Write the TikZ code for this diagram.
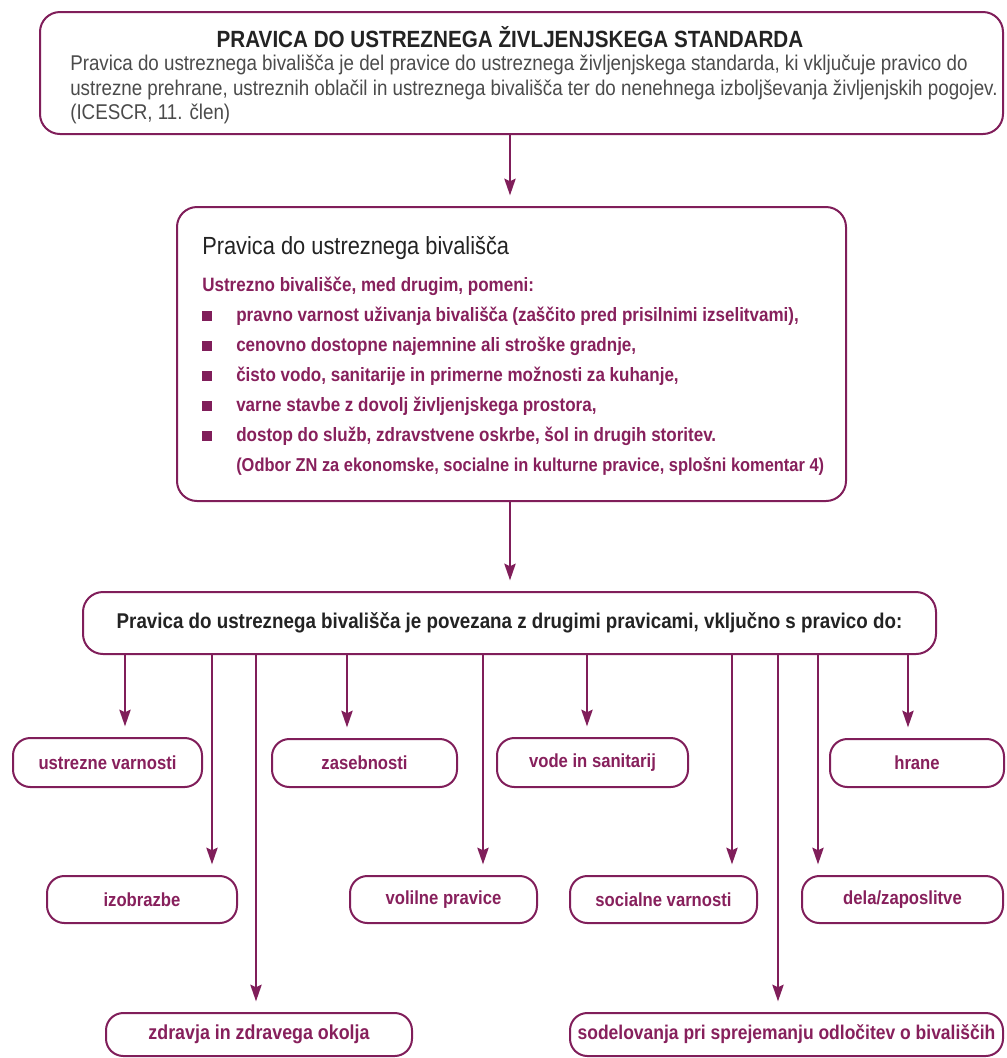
\documentclass[tikz,border=0pt]{standalone}
\usepackage{fontspec}
\setmainfont[FakeStretch=0.88]{Liberation Sans}
\usetikzlibrary{arrows.meta}
\definecolor{frm}{RGB}{128,30,90}
\definecolor{ptxt}{RGB}{135,32,92}
\definecolor{dtxt}{RGB}{35,35,35}
\definecolor{gtxt}{RGB}{75,75,75}
\newcommand{\sq}{\makebox[25.5pt][l]{\raisebox{0.8pt}{\textcolor{frm}{\rule{7.5pt}{7.5pt}}}}}
\begin{document}
\begin{tikzpicture}[x=0.75pt,y=-0.75pt,
  frame/.style={draw=frm, line width=1.5pt, rounded corners=15pt, fill=white, inner sep=0pt},
  small/.style={frame, rounded corners=13pt, font=\fontsize{14.2}{16}\selectfont\bfseries, text=ptxt},
  arr/.style={draw=frm, line width=1.5pt, -{Stealth[length=12.5pt,width=8.5pt,inset=2pt]}, shorten >=8pt}]
\useasboundingbox (0,0) rectangle (1007,1058);
% top box
\node[frame, minimum width=963*0.75pt, minimum height=122*0.75pt] (top) at (521.5,73) {};
\node[font=\fontsize{17.6}{19}\selectfont\bfseries, text=dtxt, inner sep=0pt] (toptitle) at (510,37) {PRAVICA DO USTREZNEGA ŽIVLJENJSKEGA STANDARDA};
\node[anchor=north west, align=left, inner sep=0pt, font=\fontsize{16}{18.4}\selectfont, text=gtxt] (topbody) at (70,55)
 {Pravica do ustreznega bivališča je del pravice do ustreznega življenjskega standarda, ki vključuje pravico do\\
  ustrezne prehrane, ustreznih oblačil in ustreznega bivališča ter do nenehnega izboljševanja življenjskih pogojev.\\
  (ICESCR, 11. člen)};
% middle box
\node[frame, minimum width=669*0.75pt, minimum height=294*0.75pt] (mid) at (511.5,354) {};
\node[anchor=west, inner sep=0pt, font=\fontsize{18.6}{20}\selectfont, text=dtxt] (midtitle) at (202,248) {Pravica do ustreznega bivališča};
\node[anchor=north west, align=left, inner sep=0pt, font=\fontsize{14.5}{22.5}\selectfont\bfseries, text=ptxt] (midlist) at (202,277)
 {Ustrezno bivališče, med drugim, pomeni:\\
  \sq pravno varnost uživanja bivališča (zaščito pred prisilnimi izselitvami),\\
  \sq cenovno dostopne najemnine ali stroške gradnje,\\
  \sq čisto vodo, sanitarije in primerne možnosti za kuhanje,\\
  \sq varne stavbe z dovolj življenjskega prostora,\\
  \sq dostop do služb, zdravstvene oskrbe, šol in drugih storitev.\\
  \hspace*{25.5pt}{\fontsize{14}{22.5}\selectfont(Odbor ZN za ekonomske, socialne in kulturne pravice, splošni komentar 4)}};
% link box
\node[frame, rounded corners=15pt, minimum width=853*0.75pt, minimum height=62*0.75pt,
  font=\fontsize{16}{18}\selectfont\bfseries, text=dtxt] (link) at (509.5,623)
  {Pravica do ustreznega bivališča je povezana z drugimi pravicami, vključno s pravico do:};
% small boxes
\node[small, minimum width=189*0.75pt, minimum height=49*0.75pt] (b1) at (107.5,762.5) {ustrezne varnosti};
\node[small, minimum width=185*0.75pt, minimum height=48*0.75pt] (b2) at (364.5,763) {zasebnosti};
\node[small, minimum width=191*0.75pt, minimum height=49*0.75pt] (b3) at (592.5,762.5) {vode in sanitarij};
\node[small, minimum width=174*0.75pt, minimum height=48*0.75pt] (b4) at (917,763) {hrane};
\node[small, minimum width=190*0.75pt, minimum height=47*0.75pt] (b5) at (142,899.5) {izobrazbe};
\node[small, minimum width=187*0.75pt, minimum height=47*0.75pt] (b6) at (443.5,899.5) {volilne pravice};
\node[small, minimum width=187*0.75pt, minimum height=47*0.75pt] (b7) at (663.5,899.5) {socialne varnosti};
\node[small, minimum width=201*0.75pt, minimum height=47*0.75pt] (b8) at (902.5,899.5) {dela/zaposlitve};
\node[small, font=\fontsize{15.2}{17}\selectfont\bfseries, minimum width=306*0.75pt, minimum height=43*0.75pt] (b9) at (259,1034.5) {zdravja in zdravega okolja};
\node[small, font=\fontsize{14.9}{17}\selectfont\bfseries, minimum width=433*0.75pt, minimum height=43*0.75pt] (b10) at (786.5,1034.5) {sodelovanja pri sprejemanju odločitev o bivališčih};
% connectors
\coordinate (cx) at (510,0);
\draw[arr] (top.south -| cx) -- (mid.north -| cx);
\draw[arr] (mid.south -| cx) -- (link.north -| cx);
\coordinate (x1) at (125,0);
\coordinate (x2) at (347,0);
\coordinate (x3) at (587,0);
\coordinate (x4) at (908,0);
\coordinate (x5) at (212,0);
\coordinate (x6) at (483,0);
\coordinate (x7) at (732,0);
\coordinate (x8) at (818,0);
\coordinate (x9) at (256,0);
\coordinate (x10) at (778,0);
\draw[arr] (link.south -| x1) -- (b1.north -| x1);
\draw[arr] (link.south -| x2) -- (b2.north -| x2);
\draw[arr] (link.south -| x3) -- (b3.north -| x3);
\draw[arr] (link.south -| x4) -- (b4.north -| x4);
\draw[arr] (link.south -| x5) -- (b5.north -| x5);
\draw[arr] (link.south -| x6) -- (b6.north -| x6);
\draw[arr] (link.south -| x7) -- (b7.north -| x7);
\draw[arr] (link.south -| x8) -- (b8.north -| x8);
\draw[arr] (link.south -| x9) -- (b9.north -| x9);
\draw[arr] (link.south -| x10) -- (b10.north -| x10);
\end{tikzpicture}
\end{document}
